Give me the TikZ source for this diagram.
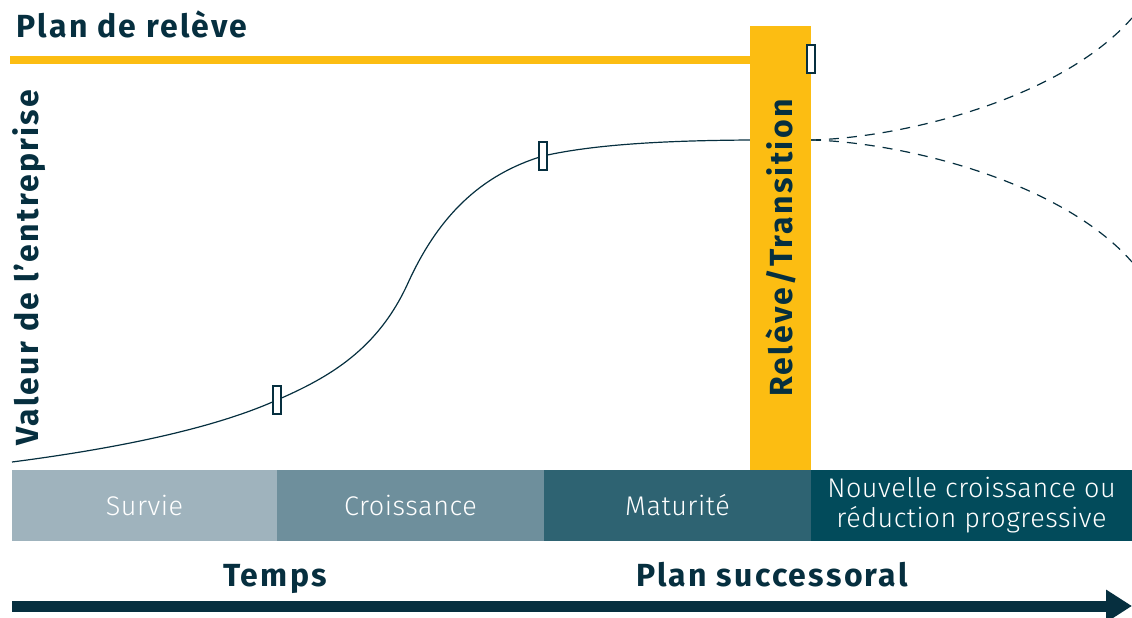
\documentclass[tikz,border=0pt]{standalone}
\usepackage{fontspec}
\setmainfont{Fira Sans}
\newfontfamily\titrefont[LetterSpace=7]{Fira Sans}
\newfontfamily\lightfont[LetterSpace=2]{Fira Sans Light}
\usetikzlibrary{positioning,arrows.meta}
\definecolor{navy}{HTML}{062F3F}
\definecolor{gold}{HTML}{FCBD12}
\definecolor{survie}{HTML}{9FB3BD}
\definecolor{croiss}{HTML}{6E8F9C}
\definecolor{matur}{HTML}{2E6372}
\definecolor{nouv}{HTML}{024B5B}

\begin{document}
\begin{tikzpicture}[x=1pt,y=-1pt,line width=1.2pt,
  titre/.style={text=navy,font=\titrefont\bfseries\fontsize{32}{36}\selectfont,inner sep=0pt},
  phase/.style={minimum width=267pt,minimum height=71pt,inner sep=0pt,outer sep=0pt,text=white,
    align=center,font=\lightfont\fontsize{27}{30}\selectfont},
  jalon/.style={draw=navy,fill=white,line width=2pt,minimum width=8pt,minimum height=28pt,inner sep=0pt},
  futur/.style={navy,dash pattern=on 10pt off 8pt}]
  \useasboundingbox (0,0) rectangle (1132,618);

  % titre et ligne du plan
  \node[titre,anchor=base west] (plan) at (16,38) {Plan de relève};
  \draw[gold,line width=8pt] (10,60) -- (750,60);

  % courbe de valeur
  \coordinate (c0) at (12,462);
  \coordinate (c1) at (277,400);
  \coordinate (c2) at (543,156);
  \coordinate (c3) at (750,140);
  \coordinate (c4) at (811,140);
  \draw[navy] (c0) .. controls (120,448) and (215,428) .. (c1)
    .. controls (330,377) and (378,349) .. (408,283)
    .. controls (438,217) and (480,175) .. (c2)
    .. controls (600,143) and (680,140.5) .. (c3);
  \draw[futur] (c4) .. controls (900,138) and (1060,100) .. (1132,18);
  \draw[futur] (c4) .. controls (900,142) and (1060,180) .. (1132,262);

  % releve
  \node[titre,fill=gold,rotate=90,minimum width=444pt,minimum height=61pt] (bar) at (780.5,248) {Relève/Transition};

  \node[jalon] (j1) at (c1) {};
  \node[jalon] (j2) at (c2) {};
  \node[jalon] (j3) at (811,59) {};

  \node[titre,rotate=90,anchor=base] (valeur) at (38,267.5) {Valeur de l’entreprise};

  % phases
  \node[phase,fill=survie,minimum width=265pt] (survie) at (144.5,505.5) {Survie};
  \node[phase,fill=croiss,right=0pt of survie] (croissance) {Croissance};
  \node[phase,fill=matur,right=0pt of croissance] (maturite) {Maturité};
  \node[phase,fill=nouv,right=0pt of maturite,minimum width=321pt] (nouvelle) {Nouvelle croissance ou\\réduction progressive};

  % axe du temps
  \node[titre,anchor=base] (temps) at (275,586) {Temps};
  \node[titre,anchor=base] (succ) at (772,586) {Plan successoral};
  \coordinate (t0) at (12,606);
  \coordinate (t1) at (1132,606);
  \draw[navy,line width=11pt,-{Triangle[length=26pt,width=31pt]}] (t0) -- (t1);
\end{tikzpicture}
\end{document}
